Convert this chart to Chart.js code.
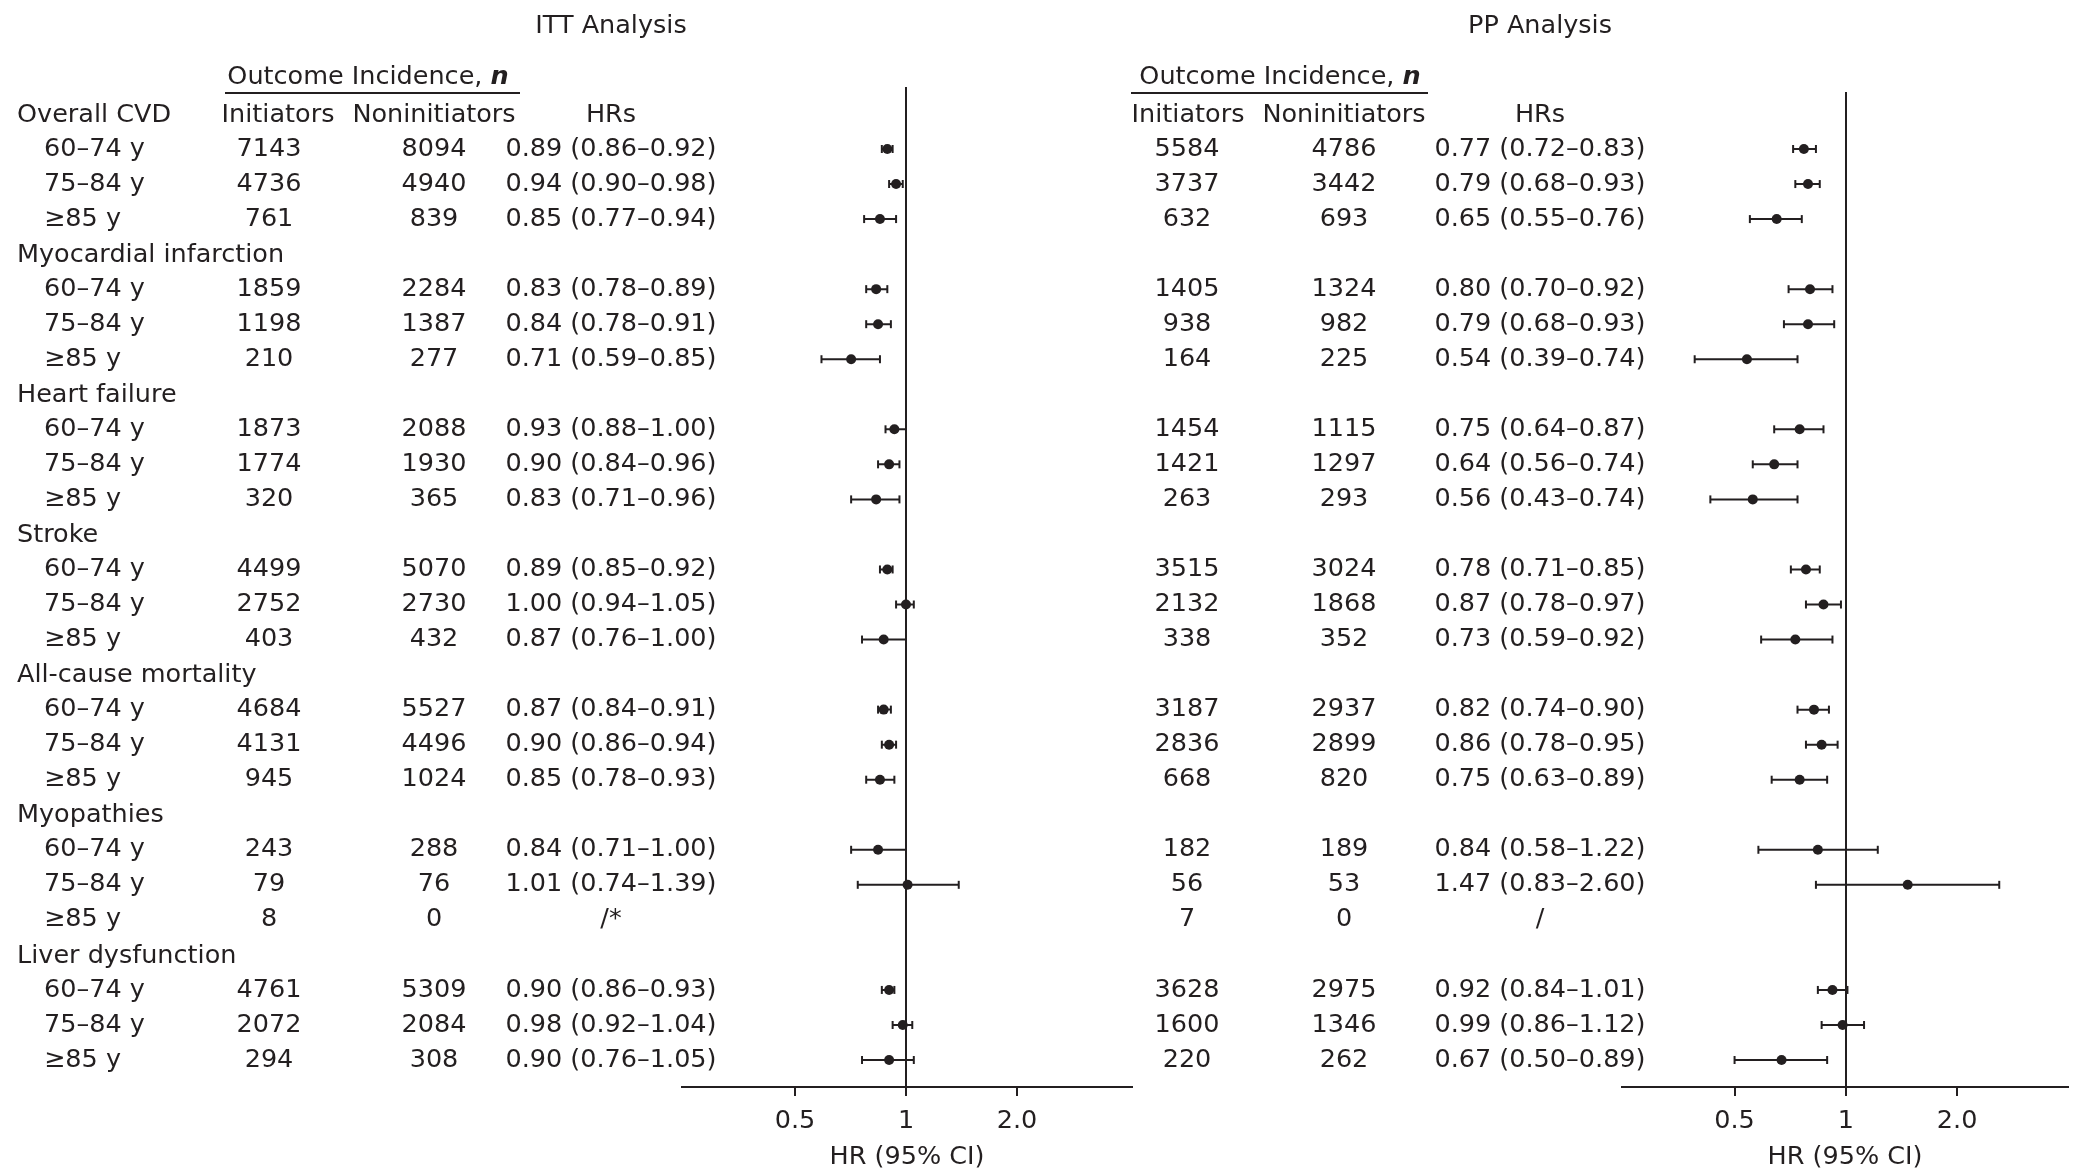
<!DOCTYPE html>
<html>
<head>
<meta charset="utf-8">
<title>ITT and PP Analysis</title>
<script src="https://cdn.jsdelivr.net/npm/chart.js@4.4.1/dist/chart.umd.min.js"></script>
<style>
  html, body { margin: 0; padding: 0; background: #fff; }
  body { width: 2075px; height: 1168px; position: relative; overflow: hidden; }
  canvas { position: absolute; top: 0; }
  #itt-chart { left: 0; }
  #pp-chart { left: 1100px; }
</style>
</head>
<body>
<canvas id="itt-chart" width="1150" height="1168"></canvas>
<canvas id="pp-chart" width="975" height="1168"></canvas>
<script>
const groups = [
  "Overall CVD",
  "Myocardial infarction",
  "Heart failure",
  "Stroke",
  "All-cause mortality",
  "Myopathies",
  "Liver dysfunction",
];
const ageBands = ["60–74 y", "75–84 y", "≥85 y"];

// ITT analysis
const ittInitiators = [7143, 4736, 761, 1859, 1198, 210, 1873, 1774, 320, 4499, 2752, 403, 4684, 4131, 945, 243, 79, 8, 4761, 2072, 294];
const ittNoninitiators = [8094, 4940, 839, 2284, 1387, 277, 2088, 1930, 365, 5070, 2730, 432, 5527, 4496, 1024, 288, 76, 0, 5309, 2084, 308];
const ittHrText = [
  "0.89 (0.86–0.92)", "0.94 (0.90–0.98)", "0.85 (0.77–0.94)",
  "0.83 (0.78–0.89)", "0.84 (0.78–0.91)", "0.71 (0.59–0.85)",
  "0.93 (0.88–1.00)", "0.90 (0.84–0.96)", "0.83 (0.71–0.96)",
  "0.89 (0.85–0.92)", "1.00 (0.94–1.05)", "0.87 (0.76–1.00)",
  "0.87 (0.84–0.91)", "0.90 (0.86–0.94)", "0.85 (0.78–0.93)",
  "0.84 (0.71–1.00)", "1.01 (0.74–1.39)", "/*",
  "0.90 (0.86–0.93)", "0.98 (0.92–1.04)", "0.90 (0.76–1.05)",
];
const ittHr = [0.89, 0.94, 0.85, 0.83, 0.84, 0.71, 0.93, 0.90, 0.83, 0.89, 1.00, 0.87, 0.87, 0.90, 0.85, 0.84, 1.01, null, 0.90, 0.98, 0.90];
const ittLow = [0.86, 0.90, 0.77, 0.78, 0.78, 0.59, 0.88, 0.84, 0.71, 0.85, 0.94, 0.76, 0.84, 0.86, 0.78, 0.71, 0.74, null, 0.86, 0.92, 0.76];
const ittHigh = [0.92, 0.98, 0.94, 0.89, 0.91, 0.85, 1.00, 0.96, 0.96, 0.92, 1.05, 1.00, 0.91, 0.94, 0.93, 1.00, 1.39, null, 0.93, 1.04, 1.05];

// PP analysis
const ppInitiators = [5584, 3737, 632, 1405, 938, 164, 1454, 1421, 263, 3515, 2132, 338, 3187, 2836, 668, 182, 56, 7, 3628, 1600, 220];
const ppNoninitiators = [4786, 3442, 693, 1324, 982, 225, 1115, 1297, 293, 3024, 1868, 352, 2937, 2899, 820, 189, 53, 0, 2975, 1346, 262];
const ppHrText = [
  "0.77 (0.72–0.83)", "0.79 (0.68–0.93)", "0.65 (0.55–0.76)",
  "0.80 (0.70–0.92)", "0.79 (0.68–0.93)", "0.54 (0.39–0.74)",
  "0.75 (0.64–0.87)", "0.64 (0.56–0.74)", "0.56 (0.43–0.74)",
  "0.78 (0.71–0.85)", "0.87 (0.78–0.97)", "0.73 (0.59–0.92)",
  "0.82 (0.74–0.90)", "0.86 (0.78–0.95)", "0.75 (0.63–0.89)",
  "0.84 (0.58–1.22)", "1.47 (0.83–2.60)", "/",
  "0.92 (0.84–1.01)", "0.99 (0.86–1.12)", "0.67 (0.50–0.89)",
];
// plotted marks (75–84 y overall CVD whisker is drawn narrower than its label)
const ppHr = [0.77, 0.79, 0.65, 0.80, 0.79, 0.54, 0.75, 0.64, 0.56, 0.78, 0.87, 0.73, 0.82, 0.86, 0.75, 0.84, 1.47, null, 0.92, 0.98, 0.67];
const ppLow = [0.72, 0.73, 0.55, 0.70, 0.68, 0.39, 0.64, 0.56, 0.43, 0.71, 0.78, 0.59, 0.74, 0.78, 0.63, 0.58, 0.83, null, 0.84, 0.86, 0.50];
const ppHigh = [0.83, 0.85, 0.76, 0.92, 0.93, 0.74, 0.87, 0.74, 0.74, 0.85, 0.97, 0.92, 0.90, 0.95, 0.89, 1.22, 2.60, null, 1.01, 1.12, 0.89];

const tickValues = [0.5, 1, 2];
const tickLabels = ["0.5", "1", "2.0"];

const ink = "#231f20";
const family = "'DejaVu Sans', sans-serif";
const fontSize = 25.5;

// each group takes 4 rows: header + 3 age bands (first header shares the column header row)
const rowOf = (k) => Math.floor(k / 3) * 4 + (k % 3);

function tablePlugin(panel) {
  return {
    id: "forestTable",
    afterDraw(chart) {
      const { ctx } = chart;
      const rowY = (r) => chart.scales.y.getPixelForValue(r);
      const headY = rowY(-1);
      ctx.save();
      ctx.fillStyle = ink;
      ctx.strokeStyle = ink;
      ctx.textBaseline = "middle";
      ctx.font = `${fontSize}px ${family}`;

      ctx.textAlign = "center";
      ctx.fillText(panel.title, panel.hrX, 26);

      // "Outcome Incidence, n" with bold italic n
      const lead = "Outcome Incidence, ";
      const leadW = ctx.measureText(lead).width;
      ctx.font = `italic bold ${fontSize}px ${family}`;
      const nW = ctx.measureText("n").width;
      const startX = panel.outcomeX - (leadW + nW) / 2;
      ctx.textAlign = "left";
      ctx.font = `${fontSize}px ${family}`;
      ctx.fillText(lead, startX, headY - 37);
      ctx.font = `italic bold ${fontSize}px ${family}`;
      ctx.fillText("n", startX + leadW, headY - 37);
      ctx.font = `${fontSize}px ${family}`;

      ctx.lineWidth = 2;
      ctx.beginPath();
      ctx.moveTo(panel.lineFrom, headY - 21);
      ctx.lineTo(panel.lineTo, headY - 21);
      ctx.stroke();

      ctx.textAlign = "center";
      ctx.fillText("Initiators", panel.initHeadX, headY + 1);
      ctx.fillText("Noninitiators", panel.nonX, headY + 1);
      ctx.fillText("HRs", panel.hrX, headY + 1);

      if (panel.labels) {
        ctx.textAlign = "left";
        groups.forEach((g, i) => ctx.fillText(g, 17, rowY(i * 4 - 1) + 1));
        panel.initiators.forEach((_, k) => ctx.fillText(ageBands[k % 3], 44, rowY(rowOf(k))));
      }

      ctx.textAlign = "center";
      panel.initiators.forEach((v, k) => {
        const y = rowY(rowOf(k));
        ctx.fillText(String(v), panel.initX, y);
        ctx.fillText(String(panel.noninitiators[k]), panel.nonX, y);
        ctx.fillText(panel.hrText[k], panel.hrX, y);
      });
      ctx.restore();
    },
  };
}

function forestChart(canvasId, panel) {
  const points = [];
  const whiskers = [];
  panel.hr.forEach((v, k) => {
    if (v === null) return;
    const r = rowOf(k);
    points.push({ x: v, y: r });
    whiskers.push({ x: panel.low[k], y: r }, { x: panel.high[k], y: r }, { x: panel.high[k], y: null });
  });

  return new Chart(document.getElementById(canvasId), {
    type: "scatter",
    data: {
      datasets: [
        {
          data: points,
          pointRadius: 5,
          pointBackgroundColor: ink,
          pointBorderWidth: 0,
        },
        {
          type: "line",
          data: whiskers,
          showLine: true,
          spanGaps: false,
          borderColor: ink,
          borderWidth: 2,
          pointStyle: "line",
          pointRotation: 90,
          pointRadius: 4,
          pointBorderColor: ink,
          pointBorderWidth: 2,
        },
      ],
    },
    options: {
      responsive: false,
      animation: false,
      devicePixelRatio: 1,
      layout: { padding: { left: panel.areaLeft, right: panel.areaRight, top: panel.areaTop, bottom: 0 } },
      plugins: {
        legend: { display: false },
        tooltip: { enabled: false },
      },
      scales: {
        x: {
          type: "logarithmic",
          position: "bottom",
          min: panel.xMin,
          max: panel.xMax,
          afterFit: (s) => { s.height = 81; },
          afterBuildTicks: (s) => { s.ticks = tickValues.map((v) => ({ value: v })); },
          ticks: {
            autoSkip: false,
            maxRotation: 0,
            padding: 10,
            color: ink,
            font: { family, size: fontSize },
            callback: (v, i) => tickLabels[i],
          },
          grid: {
            color: (c) => (c.tick && c.tick.value === 1 ? ink : "rgba(0,0,0,0)"),
            tickColor: ink,
            lineWidth: 2,
            tickLength: 9,
          },
          border: { display: true, color: ink, width: 2 },
          title: {
            display: true,
            text: "HR (95% CI)",
            color: ink,
            padding: { top: 0, bottom: 0 },
            font: { family, size: fontSize, lineHeight: 0.86 },
          },
        },
        y: {
          type: "linear",
          reverse: true,
          min: panel.yMin,
          max: panel.yMax,
          display: false,
        },
      },
    },
    plugins: [tablePlugin(panel)],
  });
}

forestChart("itt-chart", {
  title: "ITT Analysis",
  labels: true,
  initiators: ittInitiators,
  noninitiators: ittNoninitiators,
  hrText: ittHrText,
  hr: ittHr,
  low: ittLow,
  high: ittHigh,
  initX: 269,
  initHeadX: 278,
  nonX: 434,
  hrX: 611,
  outcomeX: 368,
  lineFrom: 225,
  lineTo: 520,
  areaLeft: 682,
  areaRight: 18,
  areaTop: 87,
  xMin: 0.247,
  xMax: 4.1,
  yMin: -1.769,
  yMax: 26.77,
});

forestChart("pp-chart", {
  title: "PP Analysis",
  labels: false,
  initiators: ppInitiators,
  noninitiators: ppNoninitiators,
  hrText: ppHrText,
  hr: ppHr,
  low: ppLow,
  high: ppHigh,
  initX: 87,
  initHeadX: 88,
  nonX: 244,
  hrX: 440,
  outcomeX: 180,
  lineFrom: 31,
  lineTo: 328,
  areaLeft: 522,
  areaRight: 7,
  areaTop: 92,
  xMin: 0.248,
  xMax: 3.99,
  yMin: -1.627,
  yMax: 26.77,
});
</script>
</body>
</html>
